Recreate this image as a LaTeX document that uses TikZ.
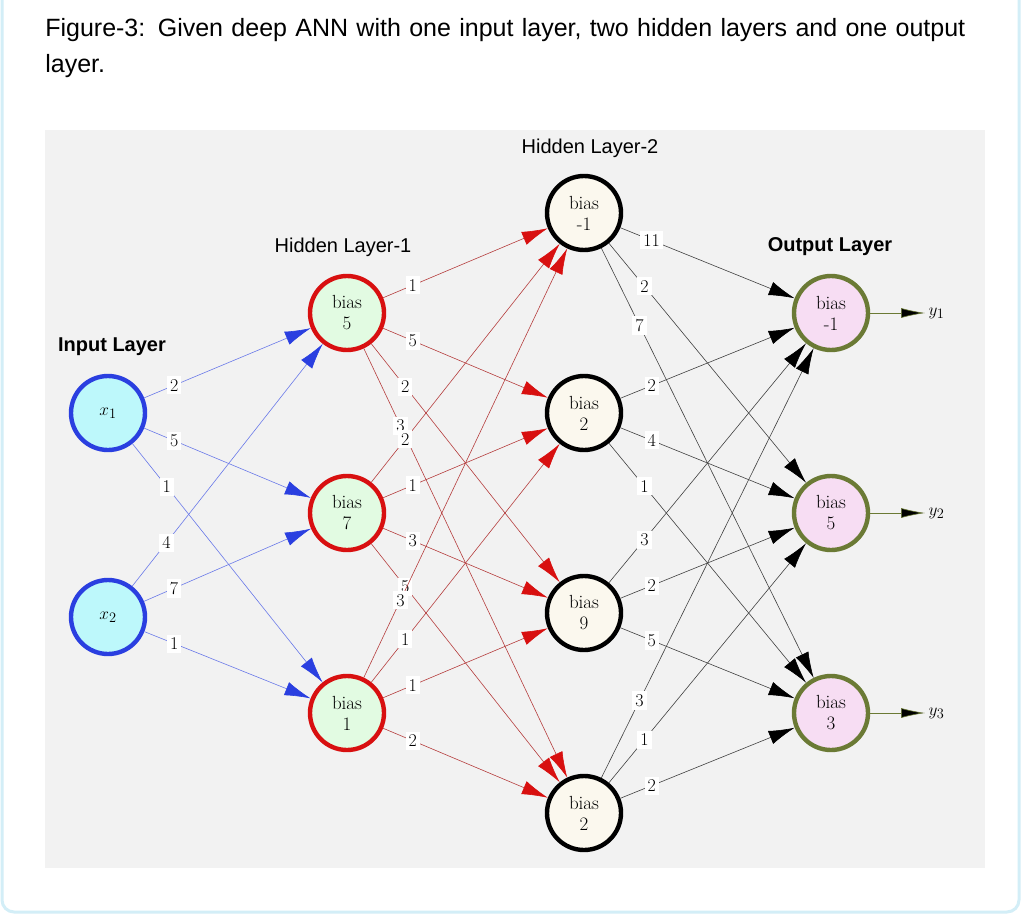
\documentclass[tikz,border=0pt]{standalone}
\usepackage{fontspec}
\newfontfamily\capfont{Liberation Sans}
\usetikzlibrary{arrows.meta}
\usepackage{amsmath}

\definecolor{inblue}{HTML}{2A3FE0}
\definecolor{infill}{HTML}{BDF8FB}
\definecolor{hred}{HTML}{D81010}
\definecolor{honefill}{HTML}{E2FBE2}
\definecolor{htwofill}{HTML}{FBF8EE}
\definecolor{outolive}{HTML}{6B7A35}
\definecolor{outfill}{HTML}{F7DDF3}
\definecolor{panel}{HTML}{F2F2F2}
\definecolor{cardline}{HTML}{D3EEF7}

\tikzset{
  neuron/.style={circle,minimum size=74pt,line width=4.4pt,font=\fontsize{19}{21}\selectfont,align=center,inner sep=0pt},
  innode/.style={neuron,draw=inblue,fill=infill},
  honenode/.style={neuron,draw=hred,fill=honefill},
  htwonode/.style={neuron,draw=black,fill=htwofill},
  outnode/.style={neuron,draw=outolive,fill=outfill},
  wlabel/.style={fill=white,inner sep=3pt,font=\fontsize{18}{20}\selectfont,pos=0.18},
  title/.style={font=\capfont\fontsize{20}{22}\selectfont},
}

\begin{document}
\begin{tikzpicture}[x=1pt,y=-1pt,line width=0.6pt]
\useasboundingbox (0,0) rectangle (1024,917);
\fill[white] (0,0) rectangle (1024,917);
\draw[cardline,line width=3pt,rounded corners=12pt] (2,-20) rectangle (1019,912);
\fill[panel] (45,130) rectangle (985,868);

\node[anchor=north west,text width=930pt,font=\capfont\fontsize{25}{36}\selectfont,inner sep=0pt](caption) at (45,18)
  {Figure-3: Given deep ANN with one input layer, two hidden layers and one output layer.};

\node[innode](x1) at (108,413){$x_1$};
\node[innode](x2) at (108,617){$x_2$};
\node[honenode](a1) at (347,313){bias\\5};
\node[honenode](a2) at (347,513){bias\\7};
\node[honenode](a3) at (347,713){bias\\1};
\node[htwonode](b1) at (584,213){bias\\-1};
\node[htwonode](b2) at (584,413){bias\\2};
\node[htwonode](b3) at (584,613){bias\\9};
\node[htwonode](b4) at (584,813){bias\\2};
\node[outnode](o1) at (831,313){bias\\-1};
\node[outnode](o2) at (831,513){bias\\5};
\node[outnode](o3) at (831,713){bias\\3};
\coordinate(e1) at (925,313);
\coordinate(e2) at (925,513);
\coordinate(e3) at (925,713);
\node[anchor=west,font=\fontsize{19}{21}\selectfont](y1) at (e1){$y_1$};
\node[anchor=west,font=\fontsize{19}{21}\selectfont](y2) at (e2){$y_2$};
\node[anchor=west,font=\fontsize{19}{21}\selectfont](y3) at (e3){$y_3$};

\node[title,font=\capfont\bfseries\fontsize{20}{22}\selectfont](tin) at (112,347){Input Layer};
\node[title](tone) at (343,247){Hidden Layer-1};
\node[title](ttwo) at (590,148){Hidden Layer-2};
\node[title,font=\capfont\bfseries\fontsize{20}{22}\selectfont](tout) at (830,247){Output Layer};

% input -> hidden 1
\path[draw=inblue!70,-{Latex[length=26pt,width=14pt,color=inblue]}]
  (x1)edge node[wlabel]{2}(a1)
  (x1)edge node[wlabel]{5}(a2)
  (x1)edge node[wlabel]{1}(a3)
  (x2)edge node[wlabel]{4}(a1)
  (x2)edge node[wlabel]{7}(a2)
  (x2)edge node[wlabel]{1}(a3);

% hidden 1 -> hidden 2
\path[draw=hred!75!black!80,-{Latex[length=26pt,width=14pt,color=hred]}]
  (a1)edge node[wlabel]{1}(b1)
  (a1)edge node[wlabel]{5}(b2)
  (a1)edge node[wlabel]{2}(b3)
  (a1)edge node[wlabel]{3}(b4)
  (a2)edge node[wlabel]{2}(b1)
  (a2)edge node[wlabel]{1}(b2)
  (a2)edge node[wlabel]{3}(b3)
  (a2)edge node[wlabel]{5}(b4)
  (a3)edge node[wlabel]{3}(b1)
  (a3)edge node[wlabel]{1}(b2)
  (a3)edge node[wlabel]{1}(b3)
  (a3)edge node[wlabel]{2}(b4);

% hidden 2 -> output
\path[draw=black!75,-{Latex[length=26pt,width=14pt,color=black]}]
  (b1)edge node[wlabel]{11}(o1)
  (b1)edge node[wlabel]{2}(o2)
  (b1)edge node[wlabel]{7}(o3)
  (b2)edge node[wlabel]{2}(o1)
  (b2)edge node[wlabel]{4}(o2)
  (b2)edge node[wlabel]{1}(o3)
  (b3)edge node[wlabel]{3}(o1)
  (b3)edge node[wlabel]{2}(o2)
  (b3)edge node[wlabel]{5}(o3)
  (b4)edge node[wlabel]{3}(o1)
  (b4)edge node[wlabel]{1}(o2)
  (b4)edge node[wlabel]{2}(o3);

% outputs
\path[draw=outolive,-{Latex[length=24pt,width=10pt]}]
  (o1)edge(e1)
  (o2)edge(e2)
  (o3)edge(e3);

\end{tikzpicture}
\end{document}
